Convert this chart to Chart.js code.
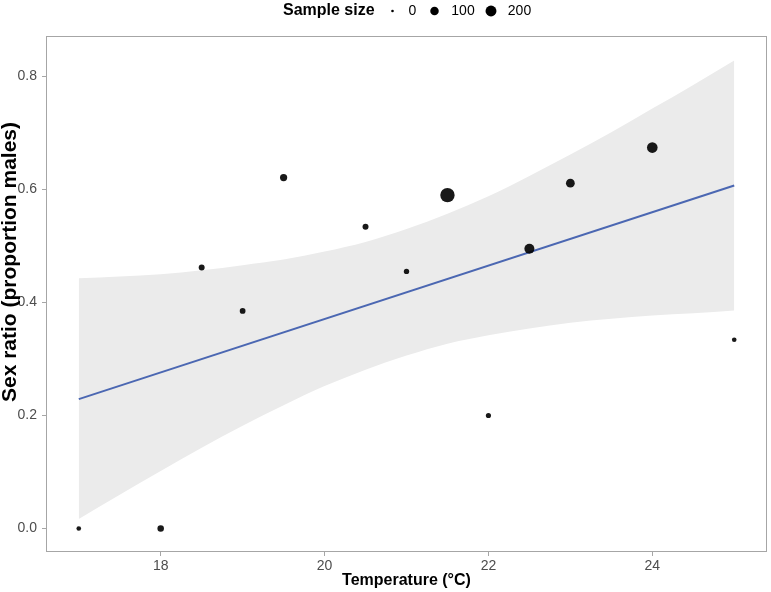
<!DOCTYPE html>
<html><head><meta charset="utf-8">
<script src="https://cdn.jsdelivr.net/npm/chart.js@4/dist/chart.umd.min.js"></script>
<style>html,body{margin:0;padding:0;background:#fff}#wrap{width:771px;height:592px}</style>
</head><body><div id="wrap"><canvas id="c" width="771" height="592"></canvas></div>
<script>
// Observed data points
const temperatures = [17, 18, 18.5, 19, 19.5, 20.5, 21, 21.5, 22, 22.5, 23, 24, 25];
const sexRatios    = [0.000, 0.000, 0.462, 0.385, 0.621, 0.534, 0.455, 0.590, 0.200, 0.495, 0.611, 0.674, 0.334];
const sampleSizes  = [12, 44, 33, 29, 61, 33, 22, 400, 19, 157, 110, 184, 12];

// Linear fit line (endpoints)
const fitX = [17, 25];
const fitY = [0.229, 0.607];

// Confidence band
const bandX     = [17, 17.5, 18, 18.5, 19, 19.5, 20, 20.5, 21, 21.5, 22, 22.5, 23, 23.5, 24, 24.5, 25];
const bandUpper = [0.443, 0.446, 0.450, 0.457, 0.466, 0.476, 0.490, 0.507, 0.530, 0.557, 0.588, 0.624, 0.662, 0.701, 0.743, 0.785, 0.828];
const bandLower = [0.017, 0.060, 0.102, 0.143, 0.182, 0.218, 0.252, 0.281, 0.306, 0.327, 0.342, 0.354, 0.364, 0.371, 0.377, 0.381, 0.386];

// Legend
const legendTitle = 'Sample size';
const legendSizes = [0, 100, 200];

const xTicks = [18, 20, 22, 24];
const yTicks = [0.0, 0.2, 0.4, 0.6, 0.8];
const xTitle = 'Temperature (°C)';
const yTitle = 'Sex ratio (proportion males)';

function radiusFor(n) { return 1.3 + 5.9 * Math.sqrt(n / 400); }

const FONT = "'Liberation Sans', Arial, Helvetica, sans-serif";
const pointColor = 'rgba(0,0,0,0.9)';

const framePlugin = {
  id: 'frame',
  afterDraw(chart) {
    const ctx = chart.ctx, a = chart.chartArea;
    ctx.save();
    ctx.strokeStyle = '#A6A6A6';
    ctx.lineWidth = 1;
    ctx.strokeRect(a.left + 0.5, a.top + 0.5, a.right - a.left - 1, a.bottom - a.top - 1);
    // y axis title
    ctx.save();
    ctx.translate(10.5, 262);
    ctx.rotate(-Math.PI / 2);
    ctx.font = 'bold 21px ' + FONT;
    ctx.fillStyle = '#000';
    ctx.textAlign = 'center';
    ctx.textBaseline = 'middle';
    ctx.fillText(yTitle, 0, 0);
    ctx.restore();
    // legend
    ctx.fillStyle = '#000';
    ctx.textBaseline = 'middle';
    ctx.font = 'bold 16px ' + FONT;
    ctx.textAlign = 'left';
    ctx.fillText(legendTitle, 283, 11);
    const dotX = [392.5, 434.5, 491];
    const labX = [412.5, 463, 519.5];
    ctx.font = '14px ' + FONT;
    ctx.textAlign = 'center';
    legendSizes.forEach((n, i) => {
      ctx.beginPath();
      ctx.arc(dotX[i], 11, radiusFor(n), 0, Math.PI * 2);
      ctx.fillStyle = '#000';
      ctx.fill();
      ctx.fillText(String(n), labX[i], 11);
    });
    ctx.restore();
  }
};

new Chart(document.getElementById('c'), {
  type: 'scatter',
  data: {
    datasets: [
      {
        label: 'points',
        data: temperatures.map((x, i) => ({ x, y: sexRatios[i] })),
        pointRadius: sampleSizes.map(radiusFor),
        pointBackgroundColor: pointColor,
        pointBorderWidth: 0,
        pointHoverRadius: sampleSizes.map(radiusFor),
        showLine: false
      },
      {
        label: 'fit',
        type: 'line',
        data: fitX.map((x, i) => ({ x, y: fitY[i] })),
        borderColor: '#4B67B2',
        borderWidth: 2,
        pointRadius: 0,
        fill: false
      },
      {
        label: 'upper',
        type: 'line',
        data: bandX.map((x, i) => ({ x, y: bandUpper[i] })),
        borderWidth: 0,
        borderColor: 'rgba(0,0,0,0)',
        pointRadius: 0,
        cubicInterpolationMode: 'monotone',
        backgroundColor: '#EBEBEB',
        fill: '+1'
      },
      {
        label: 'lower',
        type: 'line',
        data: bandX.map((x, i) => ({ x, y: bandLower[i] })),
        borderWidth: 0,
        borderColor: 'rgba(0,0,0,0)',
        pointRadius: 0,
        cubicInterpolationMode: 'monotone',
        fill: false
      }
    ]
  },
  options: {
    responsive: false,
    devicePixelRatio: 1,
    animation: false,
    layout: { autoPadding: false, padding: { left: 0, right: 4, top: 36, bottom: 0 } },
    plugins: { legend: { display: false }, tooltip: { enabled: false } },
    scales: {
      x: {
        type: 'linear',
        min: 16.6, max: 25.4,
        afterFit(s) { s.height = 40; s.paddingLeft = 0; s.paddingRight = 0; },
        afterBuildTicks(s) { s.ticks = xTicks.map(v => ({ value: v })); },
        ticks: { font: { family: FONT, size: 14 }, color: '#4D4D4D', padding: 2, callback: v => String(v) },
        grid: { display: true, drawOnChartArea: false, drawTicks: true, tickLength: 4, color: '#A6A6A6' },
        border: { display: false },
        title: { display: true, text: xTitle, color: '#000', font: { family: FONT, size: 16, weight: 'bold' }, padding: { top: 2, bottom: 2 } }
      },
      y: {
        type: 'linear',
        min: -0.0415, max: 0.8715,
        afterFit(s) { s.width = 46; s.paddingTop = 0; s.paddingBottom = 0; },
        afterBuildTicks(s) { s.ticks = yTicks.map(v => ({ value: v })); },
        ticks: { font: { family: FONT, size: 14 }, color: '#4D4D4D', padding: 5, callback: v => v.toFixed(1) },
        grid: { display: true, drawOnChartArea: false, drawTicks: true, tickLength: 4, color: '#A6A6A6' },
        border: { display: false },
        title: { display: false }
      }
    }
  },
  plugins: [framePlugin]
});
</script>
</body></html>
